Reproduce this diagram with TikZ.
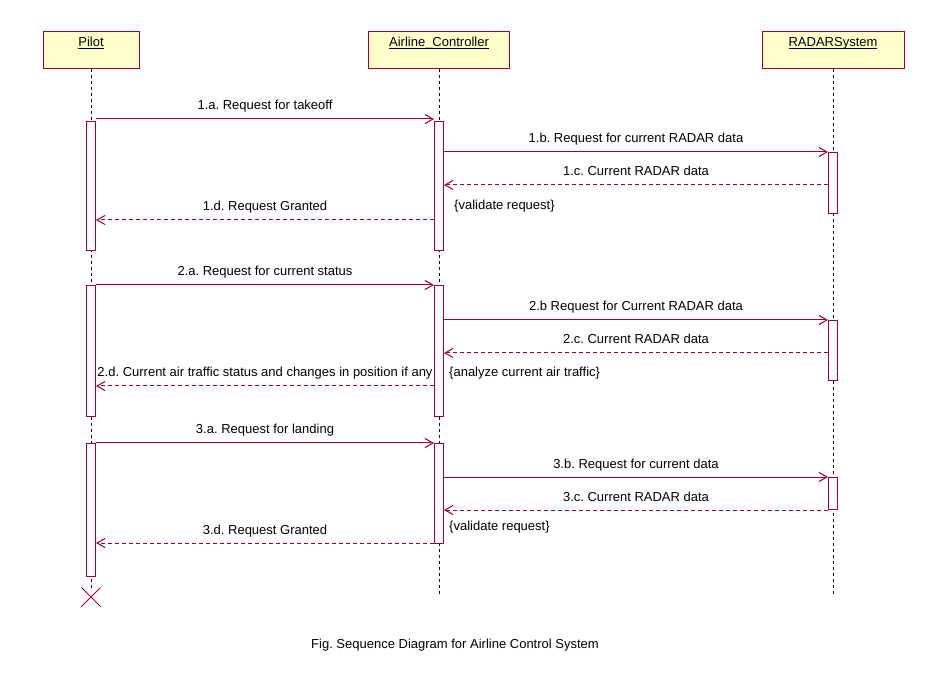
\documentclass[tikz,border=0pt]{standalone}
\usepackage{fontspec}
\setmainfont{Liberation Sans}
\usetikzlibrary{arrows.meta}
\definecolor{umlred}{RGB}{153,0,51}
\definecolor{umlfill}{RGB}{255,255,204}
\newcommand{\ulbl}[1]{\rlap{\rule[-1.5pt]{\widthof{#1}}{0.8pt}}#1}
\usepackage{calc}
\tikzset{
  actor/.style={draw=umlred, fill=umlfill, line width=1pt, minimum width=#1, minimum height=37pt, inner sep=0pt, anchor=north},
  actlabel/.style={font=\fontsize{13}{15}\selectfont, inner sep=0pt, anchor=base},
  lifeline/.style={draw=black, line width=1pt, dash pattern=on 3pt off 3pt},
  actbar/.style={draw=umlred, fill=white, line width=1pt, minimum width=9pt, inner sep=0pt, anchor=north},
  msg/.style={draw=umlred, line width=1pt, -{Straight Barb[length=8pt,width=9pt,line width=1pt]}},
  reply/.style={msg, dash pattern=on 4pt off 3pt},
  lbl/.style={font=\fontsize{13}{15}\selectfont, inner sep=0pt, anchor=base, yshift=9pt},
  note/.style={font=\fontsize{13}{15}\selectfont, inner sep=0pt, anchor=base west},
}
\begin{document}
\frenchspacing
\begin{tikzpicture}[x=1pt,y=-1pt]
\useasboundingbox (0,0) rectangle (948,684);
% actors
\node[actor=96pt] (pilot) at (91,31) {};
\node[actor=141pt] (ctrl) at (439,31) {};
\node[actor=142pt] (radar) at (833,31) {};
\node[actlabel] at (91,47) {\ulbl{Pilot}};
\node[actlabel] at (439,47) {\ulbl{Airline\_Controller}};
\node[actlabel] at (833,47) {\ulbl{RADARSystem}};
% lifelines
\coordinate (pend) at (91,590);
\coordinate (cend) at (439,595);
\coordinate (rend) at (833,595);
\draw[lifeline] (pilot.south) -- (pend);
\draw[lifeline] (ctrl.south) -- (cend);
\draw[lifeline] (radar.south) -- (rend);
% activation bars
\node[actbar, minimum height=129pt] (pb1) at (91,121) {};
\node[actbar, minimum height=131pt] (pb2) at (91,285) {};
\node[actbar, minimum height=133pt] (pb3) at (91,443) {};
\node[actbar, minimum height=129pt] (cb1) at (439,121) {};
\node[actbar, minimum height=131pt] (cb2) at (439,285) {};
\node[actbar, minimum height=100pt] (cb3) at (439,443) {};
\node[actbar, minimum height=61pt] (rb1) at (833,152) {};
\node[actbar, minimum height=60pt] (rb2) at (833,320) {};
\node[actbar, minimum height=32pt] (rb3) at (833,477) {};
% destruction
\draw[umlred, line width=1pt] (81.5,587.5) -- (100.5,606.5) (81.5,606.5) -- (100.5,587.5);
% messages round 1
\draw[msg] (pb1.east |- {(0,119)}) -- node[lbl] {1.a. Request for takeoff} (cb1.west |- {(0,119)});
\draw[msg] (cb1.east |- {(0,152)}) -- node[lbl] {1.b. Request for current RADAR data} (rb1.west |- {(0,152)});
\draw[reply] (rb1.west |- {(0,185)}) -- node[lbl] {1.c. Current RADAR data} (cb1.east |- {(0,185)});
\draw[reply] (cb1.west |- {(0,220)}) -- node[lbl] {1.d. Request Granted} (pb1.east |- {(0,220)});
\node[note] (n1) at (454,210) {\{validate request\}};
% round 2
\draw[msg] (pb2.east |- {(0,285)}) -- node[lbl] {2.a. Request for current status} (cb2.west |- {(0,285)});
\draw[msg] (cb2.east |- {(0,320)}) -- node[lbl] {2.b Request for Current RADAR data} (rb2.west |- {(0,320)});
\draw[reply] (rb2.west |- {(0,353)}) -- node[lbl] {2.c. Current RADAR data} (cb2.east |- {(0,353)});
\draw[reply] (cb2.west |- {(0,386)}) -- node[lbl] {2.d. Current air traffic status and changes in position if any} (pb2.east |- {(0,386)});
\node[note] (n2) at (449,377) {\{analyze current air traffic\}};
% round 3
\draw[msg] (pb3.east |- {(0,443)}) -- node[lbl] {3.a. Request for landing} (cb3.west |- {(0,443)});
\draw[msg] (cb3.east |- {(0,477)}) -- node[lbl] {3.b. Request for current data} (rb3.west |- {(0,477)});
\draw[reply] (rb3.west |- {(0,510)}) -- node[lbl] {3.c. Current RADAR data} (cb3.east |- {(0,510)});
\draw[reply] (cb3.west |- {(0,543)}) -- node[lbl] {3.d. Request Granted} (pb3.east |- {(0,543)});
\node[note] (n3) at (449,530) {\{validate request\}};
% caption
\node[font=\fontsize{13}{15}\selectfont] (cap) at (455,645) {Fig. Sequence Diagram for Airline Control System};
\end{tikzpicture}
\end{document}
